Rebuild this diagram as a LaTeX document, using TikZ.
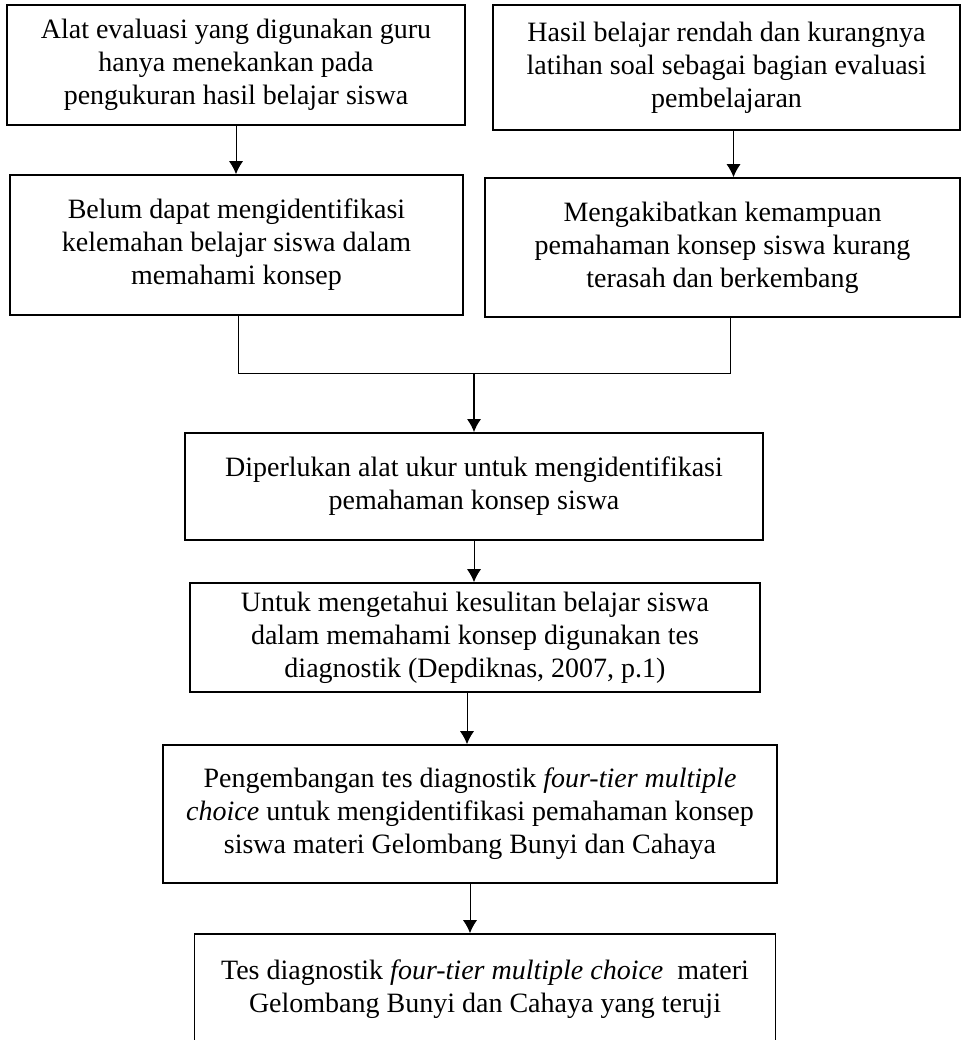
\documentclass[tikz,border=0pt]{standalone}
\usepackage{fontspec}
\setmainfont{Liberation Serif}
\usetikzlibrary{arrows.meta}
\tikzset{box/.style={draw,line width=0.8pt,align=center,inner sep=0pt,font=\fontsize{14}{16.5}\selectfont},
  flow/.style={-{Latex[length=6.5pt,width=7pt]},line width=0.5pt}}
\begin{document}
\begin{tikzpicture}[x=0.5pt,y=-0.5pt]
  \useasboundingbox (0,0) rectangle (963,1040);
  \node[box,minimum width=229pt,minimum height=60pt] (alat) at (236,65) {Alat evaluasi yang digunakan guru\\hanya menekankan pada\\pengukuran hasil belajar siswa};
  \node[box,minimum width=233.5pt,minimum height=62.5pt] (hasil) at (726.5,67.5) {Hasil belajar rendah dan kurangnya\\latihan soal sebagai bagian evaluasi\\pembelajaran};
  \node[box,minimum width=226.5pt,minimum height=70pt] (belum) at (236.5,245) {Belum dapat mengidentifikasi\\kelemahan belajar siswa dalam\\memahami konsep};
  \node[box,minimum width=237.5pt,minimum height=69.5pt] (akibat) at (722.5,247.5) {Mengakibatkan kemampuan\\pemahaman konsep siswa kurang\\terasah dan berkembang};
  \node[box,minimum width=289pt,minimum height=53.5pt] (perlu) at (474,486.5) {Diperlukan alat ukur untuk mengidentifikasi\\pemahaman konsep siswa};
  \node[box,minimum width=285pt,minimum height=54.5pt] (untuk) at (475,637.5) {Untuk mengetahui kesulitan belajar siswa\\dalam memahami konsep digunakan tes\\diagnostik (Depdiknas, 2007, p.1)};
  \node[box,minimum width=307pt,minimum height=69pt] (kembang) at (470,814) {Pengembangan tes diagnostik \textit{four-tier multiple}\\\textit{choice} untuk mengidentifikasi pemahaman konsep\\siswa materi Gelombang Bunyi dan Cahaya};
  \node[box,minimum width=290.5pt,minimum height=69pt] (tes) at (485,1003) {Tes diagnostik \textit{four-tier multiple choice}~ materi\\Gelombang Bunyi dan Cahaya yang teruji\\\mbox{}};
  \draw[flow] (alat.south) -- (alat.south |- belum.north);
  \draw[flow] ([xshift=3.5pt]hasil.south) -- ([xshift=3.5pt]hasil.south |- akibat.north);
  \coordinate (gabung) at (474,373.5);
  \draw[line width=0.5pt] ([xshift=1pt]belum.south) |- (gabung);
  \draw[line width=0.8pt] ([xshift=4pt]akibat.south) |- (gabung);
  \draw[flow,line width=0.8pt] (gabung) -- (gabung |- perlu.north);
  \draw[flow] (perlu.south) -- (perlu.south |- untuk.north);
  \draw[flow] ([xshift=-4pt]untuk.south) -- ([xshift=-4pt]untuk.south |- kembang.north);
  \draw[flow] (kembang.south) -- (kembang.south |- tes.north);
\end{tikzpicture}
\end{document}
